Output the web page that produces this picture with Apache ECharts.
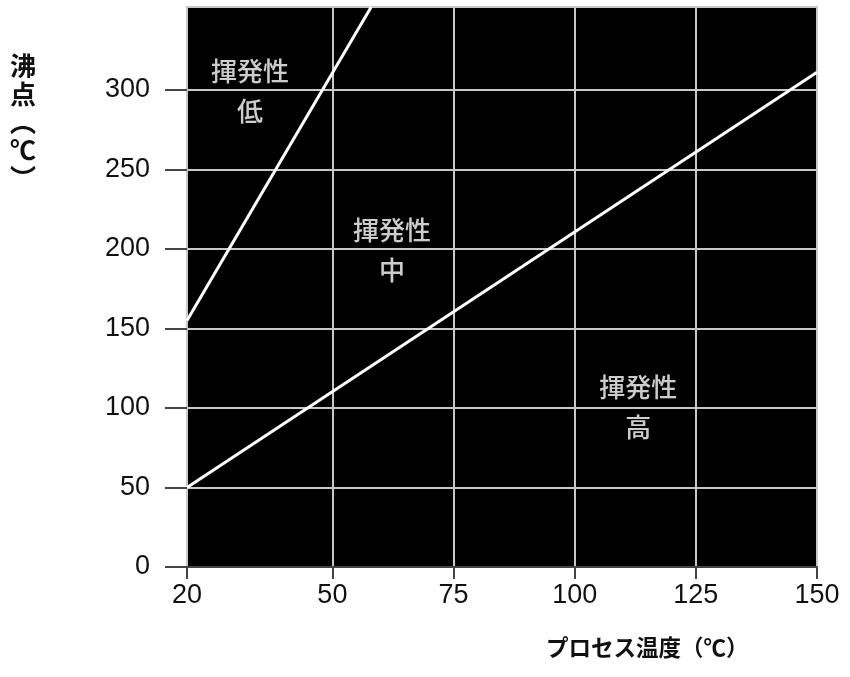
<!DOCTYPE html>
<html>
<head>
<meta charset="utf-8">
<script src="https://cdn.jsdelivr.net/npm/echarts@6/dist/echarts.min.js"></script>
<style>
html,body{margin:0;padding:0;background:#fff;}
#chart{width:850px;height:677px;}
</style>
</head>
<body>
<div id="chart"></div>
<script>
// Data
const xTicks = [20, 50, 75, 100, 125, 150];
const yTicks = [0, 50, 100, 150, 200, 250, 300];
const boundaryLowX = [20, 58];
const boundaryLowY = [155, 352];
const boundaryHighX = [20, 150];
const boundaryHighY = [50, 311];
const regionX = [33, 62.3, 113.1];
const regionY = [299, 199, 100.6];
const regionText = ['揮発性\n低', '揮発性\n中', '揮発性\n高'];
const xName = 'プロセス温度（℃）';
const yName = '沸\n点\n︵\n℃\n︶';

const chart = echarts.init(document.getElementById('chart'), null, {renderer: 'canvas'});
const numFont = '"Liberation Sans", Arial, sans-serif';
const cjkFont = '"Noto Sans CJK JP", sans-serif';

const option = {
  animation: false,
  grid: {
    left: 187, right: 33, top: 7, bottom: 110,
    show: true, backgroundColor: '#000', borderColor: '#c8c8c8', borderWidth: 2
  },
  xAxis: {
    type: 'value', min: 20, max: 150,
    axisLine: {show: true, lineStyle: {color: '#444', width: 2}},
    axisTick: {show: true, customValues: xTicks, length: 12, lineStyle: {color: '#444', width: 2}},
    axisLabel: {customValues: xTicks, color: '#111', fontSize: 27, fontFamily: numFont, margin: 15},
    splitLine: {show: true, lineStyle: {color: '#c8c8c8', width: 2}}
  },
  yAxis: {
    type: 'value', min: 0, max: 352,
    axisLine: {show: false},
    axisTick: {show: true, customValues: yTicks, length: 22, lineStyle: {color: '#444', width: 2}},
    axisLabel: {customValues: yTicks, color: '#111', fontSize: 27, fontFamily: numFont, margin: 37},
    splitLine: {show: true, lineStyle: {color: '#c8c8c8', width: 2}}
  },
  series: [
    {
      type: 'line', symbol: 'none', clip: true,
      data: boundaryLowX.map((x, i) => [x, boundaryLowY[i]]),
      lineStyle: {color: '#fff', width: 3}
    },
    {
      type: 'line', symbol: 'none', clip: true,
      data: boundaryHighX.map((x, i) => [x, boundaryHighY[i]]),
      lineStyle: {color: '#fff', width: 3}
    },
    {
      type: 'scatter', symbolSize: 0,
      data: regionX.map((x, i) => ({value: [x, regionY[i]], name: regionText[i]})),
      label: {
        show: true, position: 'inside', formatter: p => p.name,
        color: '#fff', fontSize: 26, lineHeight: 40, fontWeight: 500, fontFamily: cjkFont, align: 'center'
      }
    }
  ],
  graphic: [
    {
      type: 'text', left: 10, top: 52,
      style: {text: yName, font: 'bold 26px "Noto Sans CJK JP", sans-serif', fill: '#111', lineHeight: 28, align: 'center'}
    },
    {
      type: 'text', left: 546, top: 636,
      style: {text: xName, font: 'bold 22.5px "Noto Sans CJK JP", sans-serif', fill: '#111'}
    }
  ]
};
chart.setOption(option);
</script>
</body>
</html>
